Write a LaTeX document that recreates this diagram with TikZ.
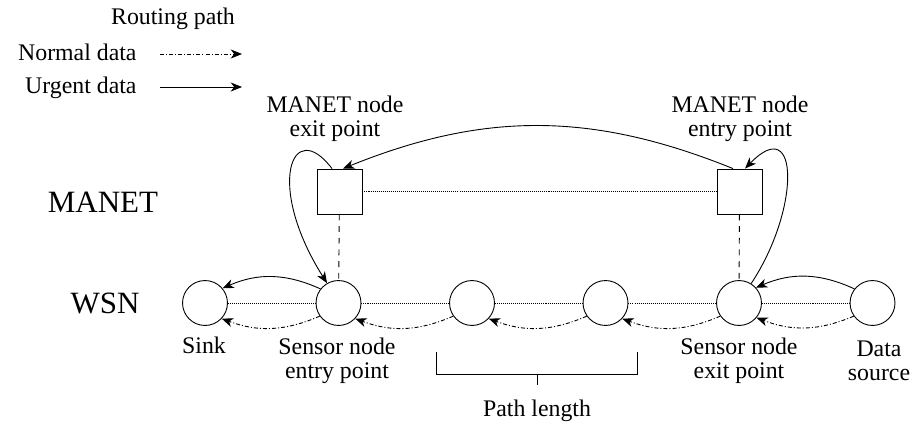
\documentclass[tikz,border=0pt]{standalone}
\usepackage{fontspec}
\setmainfont{Liberation Serif}
\usetikzlibrary{arrows.meta,calc}

\tikzset{
  sens/.style={circle, draw, minimum size=20pt, inner sep=0pt},
  mnode/.style={rectangle, draw, minimum size=20pt, inner sep=0pt},
  link/.style={dash pattern=on 0.45pt off 0.45pt},
  vlink/.style={dash pattern=on 2.6pt off 2.6pt},
  urgent/.style={-{Stealth[length=5pt,width=4pt,inset=1.5pt]}},
  normal/.style={urgent, dash pattern=on 1.8pt off 0.9pt on 0.45pt off 0.9pt},
  lbl/.style={inner sep=0pt, align=center, font=\fontsize{10.6}{10.8}\selectfont},
  big/.style={inner sep=0pt, font=\fontsize{13.8}{15}\selectfont}
}

\begin{document}
\begin{tikzpicture}[x=0.445pt, y=-0.445pt]
\useasboundingbox (0,0) rectangle (913,428);

% legend
\node[lbl, anchor=base] (lgtitle) at (173,25) {Routing path};
\node[lbl, anchor=base east] (lgnormal) at (137,61) {Normal data};
\node[lbl, anchor=base east] (lgurgent) at (137,94) {Urgent data};
\coordinate (na) at (160,54);
\coordinate (nb) at (242,54);
\coordinate (ua) at (160,87);
\coordinate (ub) at (242,87);
\draw[normal] (na) -- (nb);
\draw[urgent] (ua) -- (ub);

% layer names
\node[big] (manet) at (103,202) {MANET};
\node[big] (wsn) at (105,303) {WSN};

% sensor chain
\node[sens] (sink) at (205,303) {};
\node[sens] (en)   at (338.5,303) {};
\node[sens] (m1)   at (472,303) {};
\node[sens] (m2)   at (605.5,303) {};
\node[sens] (ex)   at (739,303) {};
\node[sens] (src)  at (872.5,303) {};

% MANET nodes
\node[mnode] (sq1) at (339.5,191.5) {};
\node[mnode] (sq2) at (739.5,191.5) {};

% links
\draw[link] (sink) -- (en);
\draw[link] (en) -- (m1);
\draw[link] (m1) -- (m2);
\draw[link] (m2) -- (ex);
\draw[link] (ex) -- (src);
\draw[link] (sq1) -- (sq2);
\draw[vlink] (sq1) -- (en);
\draw[vlink] (sq2) -- (ex);

% normal data, hop by hop
\draw[normal] (en.215)  to[bend left=22] (sink.-43);
\draw[normal] (m1.215)  to[bend left=22] (en.-43);
\draw[normal] (m2.215)  to[bend left=22] (m1.-43);
\draw[normal] (ex.215)  to[bend left=22] (m2.-43);
\draw[normal] (src.215) to[bend left=22] (ex.-40);

% urgent data, through the MANET
\draw[urgent] (src.142) to[bend right=24] (ex.42);
\draw[urgent] (ex.58) .. controls (800,210) and (800,112) .. ($(sq2.north)+(5.5,0)$);
\draw[urgent] ($(sq2.north)+(-6.5,0)$) to[bend right=22] ($(sq1.north)+(3.5,0)$);
\draw[urgent] ($(sq1.north)+(-7.5,0)$) .. controls (292,116) and (265,185) .. (en.120);
\draw[urgent] (en.142) to[bend right=24] (sink.40);

% labels
\node[lbl] (lsq1) at (335,119) {MANET node\\exit point};
\node[lbl] (lsq2) at (740,119) {MANET node\\entry point};
\node[lbl, anchor=base] (lsink) at (204,353) {Sink};
\node[lbl] (len) at (337,361) {Sensor node\\entry point};
\node[lbl] (lex) at (739,361) {Sensor node\\exit point};
\node[lbl] (lsrc) at (879,361) {Data\\source};

% path length bracket
\coordinate (bl) at (436,352);
\coordinate (blc) at (436,374);
\coordinate (brc) at (637,374);
\coordinate (br) at (637,352);
\coordinate (bm) at (537,374);
\coordinate (bt) at (537,385);
\draw (bl) -- (blc) -- (brc) -- (br);
\draw (bm) -- (bt);
\node[lbl, anchor=base] (lpath) at (537,416) {Path length};
\end{tikzpicture}
\end{document}
